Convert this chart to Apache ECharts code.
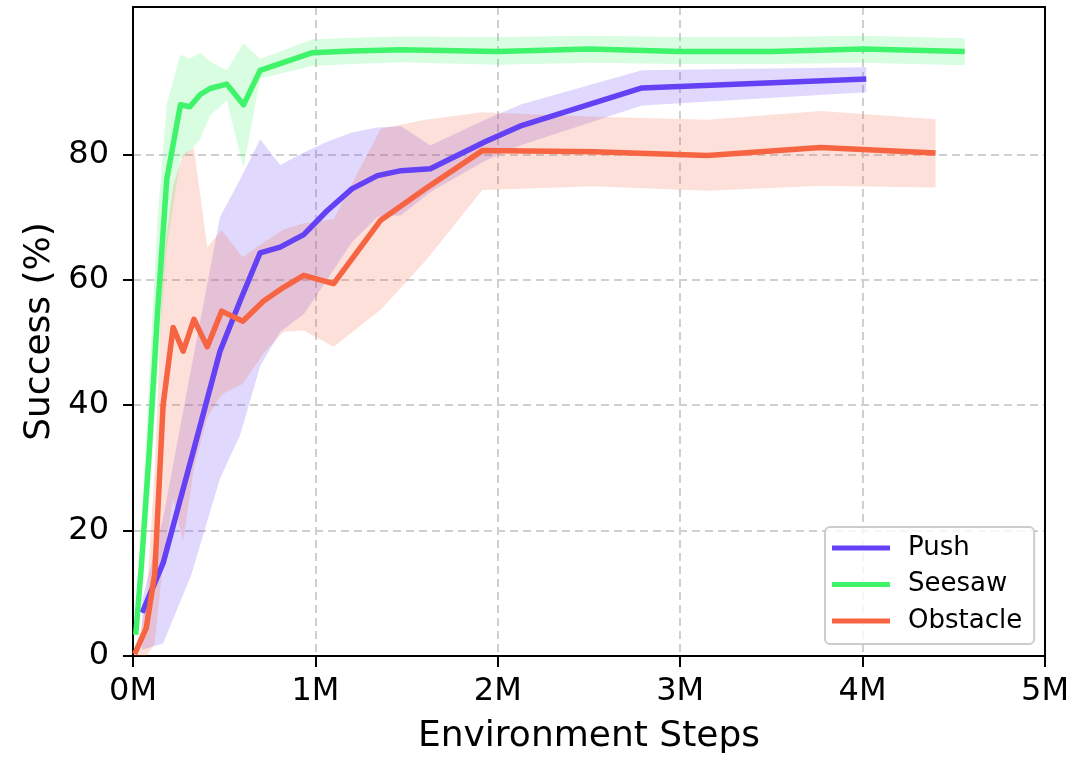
<!DOCTYPE html>
<html>
<head>
<meta charset="utf-8">
<script src="https://cdn.jsdelivr.net/npm/echarts@6/dist/echarts.min.js"></script>
<style>html,body{margin:0;padding:0;background:#fff}#c{width:1074px;height:760px}</style>
</head>
<body>
<div id="c"></div>
<script>
// ---- data (x in millions of environment steps, y in % success) ----
const xTicks = [0, 1, 2, 3, 4, 5];
const yTicks = [0, 20, 40, 60, 80];

const pushX    = [0.05, 0.165, 0.32, 0.477, 0.587, 0.697, 0.807, 0.936, 1.064, 1.2, 1.34, 1.47, 1.63, 1.93, 2.13, 2.79, 4.02];
const pushMean = [6.9, 14.8, 31.5, 48.6, 56.6, 64.3, 65.2, 67.2, 71.0, 74.5, 76.6, 77.4, 77.7, 82.0, 84.6, 90.6, 92.0];
const pushLow  = [1.0, 2.0, 13, 28.3, 35.2, 46.2, 51.7, 54.5, 60, 66, 70, 70.3, 74, 79, 81.5, 87.8, 89.9];
const pushHigh = [9, 22, 46, 70, 76, 82.4, 78.3, 80.3, 82, 83.5, 84.3, 84.5, 81.4, 85.5, 88, 93.4, 93.9];

const seeX    = [0.015, 0.045, 0.09, 0.135, 0.185, 0.26, 0.312, 0.367, 0.422, 0.514, 0.606, 0.697, 0.98, 1.2, 1.47, 2.0, 2.5, 3.0, 3.5, 4.0, 4.56];
const seeMean = [3.4, 14, 33, 55, 76, 87.9, 87.6, 89.5, 90.5, 91.2, 87.9, 93.4, 96.2, 96.5, 96.7, 96.4, 96.8, 96.4, 96.4, 96.8, 96.4];
const seeLow  = [2.5, 9, 25, 45, 65, 79.3, 80.5, 82.4, 86.2, 88.6, 77.9, 92.1, 94.1, 94.4, 94.7, 94.3, 94.6, 94.4, 94.4, 94.6, 94.2];
const seeHigh = [5, 20, 45, 70, 88, 95.9, 95.3, 96.2, 94.8, 93.4, 97.7, 95.2, 98.3, 98.6, 98.8, 98.7, 98.9, 98.7, 98.7, 98.9, 98.5];

const obsX    = [0.009, 0.073, 0.119, 0.165, 0.22, 0.275, 0.334, 0.407, 0.486, 0.602, 0.716, 0.826, 0.936, 1.1, 1.358, 1.603, 1.915, 2.527, 3.15, 3.77, 4.40];
const obsMean = [0.3, 4.5, 13.1, 40, 52.4, 48.6, 53.7, 49.3, 55.0, 53.4, 56.6, 58.8, 60.7, 59.4, 69.5, 74.5, 80.6, 80.4, 79.8, 81.1, 80.2];
const obsLow  = [0, 0, 2, 15, 25, 18.3, 30, 38, 41.7, 43.4, 48.3, 51.7, 51.9, 49.3, 55.2, 63, 74.3, 74.9, 74.2, 75.0, 74.7];
const obsHigh = [0.5, 8, 30, 63, 75, 80, 81, 65.2, 67.9, 63.6, 66, 68, 69, 69.7, 84.1, 85.5, 86.7, 86, 85.5, 86.9, 85.6];

const names  = ['Push', 'Seesaw', 'Obstacle'];
const colors = ['#6441F5', '#3FF46A', '#F76441'];

// ---- build ----
const FONT = 'DejaVu Sans';
const groups = [
  [pushX, pushMean, pushLow, pushHigh],
  [seeX, seeMean, seeLow, seeHigh],
  [obsX, obsMean, obsLow, obsHigh]
];

function bandSeries(g, i) {
  const [xs, , lo, hi] = g;
  return {
    name: names[i] + ' band',
    type: 'custom',
    silent: true,
    z: 1,
    encode: { x: 0, y: [1, 2] },
    data: xs.map((x, k) => [x, lo[k], hi[k]]),
    renderItem: function (params, api) {
      if (params.dataIndexInside !== 0) return null;
      const n = params.dataInsideLength;
      const top = [], bot = [];
      for (let k = 0; k < n; k++) {
        const x = api.value(0, k);
        top.push(api.coord([x, api.value(2, k)]));
        bot.push(api.coord([x, api.value(1, k)]));
      }
      return {
        type: 'polygon',
        shape: { points: top.concat(bot.reverse()) },
        style: { fill: colors[i], opacity: 0.2 }
      };
    }
  };
}

function lineSeries(g, i) {
  const [xs, mean] = g;
  return {
    name: names[i],
    type: 'line',
    z: 3,
    showSymbol: false,
    symbol: 'none',
    color: colors[i],
    lineStyle: { width: 5.5, color: colors[i], join: 'round', cap: 'butt' },
    data: xs.map((x, k) => [x, mean[k]])
  };
}

const gridLine = { show: true, lineStyle: { color: '#cfcfcf', width: 2, type: [8, 5] } };
const blackLine = { show: true, onZero: false, lineStyle: { color: '#000', width: 2 } };

const option = {
  animation: false,
  backgroundColor: '#fff',
  textStyle: { fontFamily: FONT },
  grid: { left: 133, right: 29, top: 7, bottom: 102, show: false },
  legend: {
    data: names.map(n => ({ name: n, icon: 'rect' })),
    orient: 'vertical',
    left: 825, top: 527,
    itemWidth: 58, itemHeight: 5,
    itemGap: 10.5,
    padding: [8, 12, 10, 7],
    backgroundColor: 'rgba(255,255,255,0.8)',
    borderColor: '#cccccc', borderWidth: 2, borderRadius: 5,
    textStyle: { fontFamily: FONT, fontSize: 26, color: '#000', padding: [0, 0, 0, 13], lineHeight: 26 }
  },
  xAxis: [{
    type: 'value', min: 0, max: 5, interval: 1,
    name: 'Environment Steps', nameLocation: 'middle', nameGap: 63,
    nameTextStyle: { fontFamily: FONT, fontSize: 36, color: '#000' },
    axisLine: blackLine,
    axisTick: { show: true, length: 11, lineStyle: { color: '#000', width: 2 }, customValues: xTicks },
    axisLabel: { fontFamily: FONT, fontSize: 32, color: '#000', margin: 20, customValues: xTicks, formatter: v => v + 'M' },
    splitLine: gridLine
  }, {
    type: 'value', min: 0, max: 5, position: 'top', z: 10,
    axisLine: blackLine, axisTick: { show: false }, axisLabel: { show: false }, splitLine: { show: false }
  }],
  yAxis: [{
    type: 'value', min: 0, max: 103.5,
    name: 'Success (%)', nameLocation: 'middle', nameGap: 73,
    nameTextStyle: { fontFamily: FONT, fontSize: 36, color: '#000' },
    axisLine: blackLine,
    axisTick: { show: true, length: 10, lineStyle: { color: '#000', width: 2 }, customValues: yTicks },
    axisLabel: { fontFamily: FONT, fontSize: 32, color: '#000', margin: 24, customValues: yTicks },
    splitLine: gridLine
  }, {
    type: 'value', min: 0, max: 103.5, position: 'right', z: 10,
    axisLine: blackLine, axisTick: { show: false }, axisLabel: { show: false }, splitLine: { show: false }
  }],
  series: groups.map(bandSeries).concat(groups.map(lineSeries))
};

const chart = echarts.init(document.getElementById('c'), null, { renderer: 'canvas' });
chart.setOption(option);
</script>
</body>
</html>
